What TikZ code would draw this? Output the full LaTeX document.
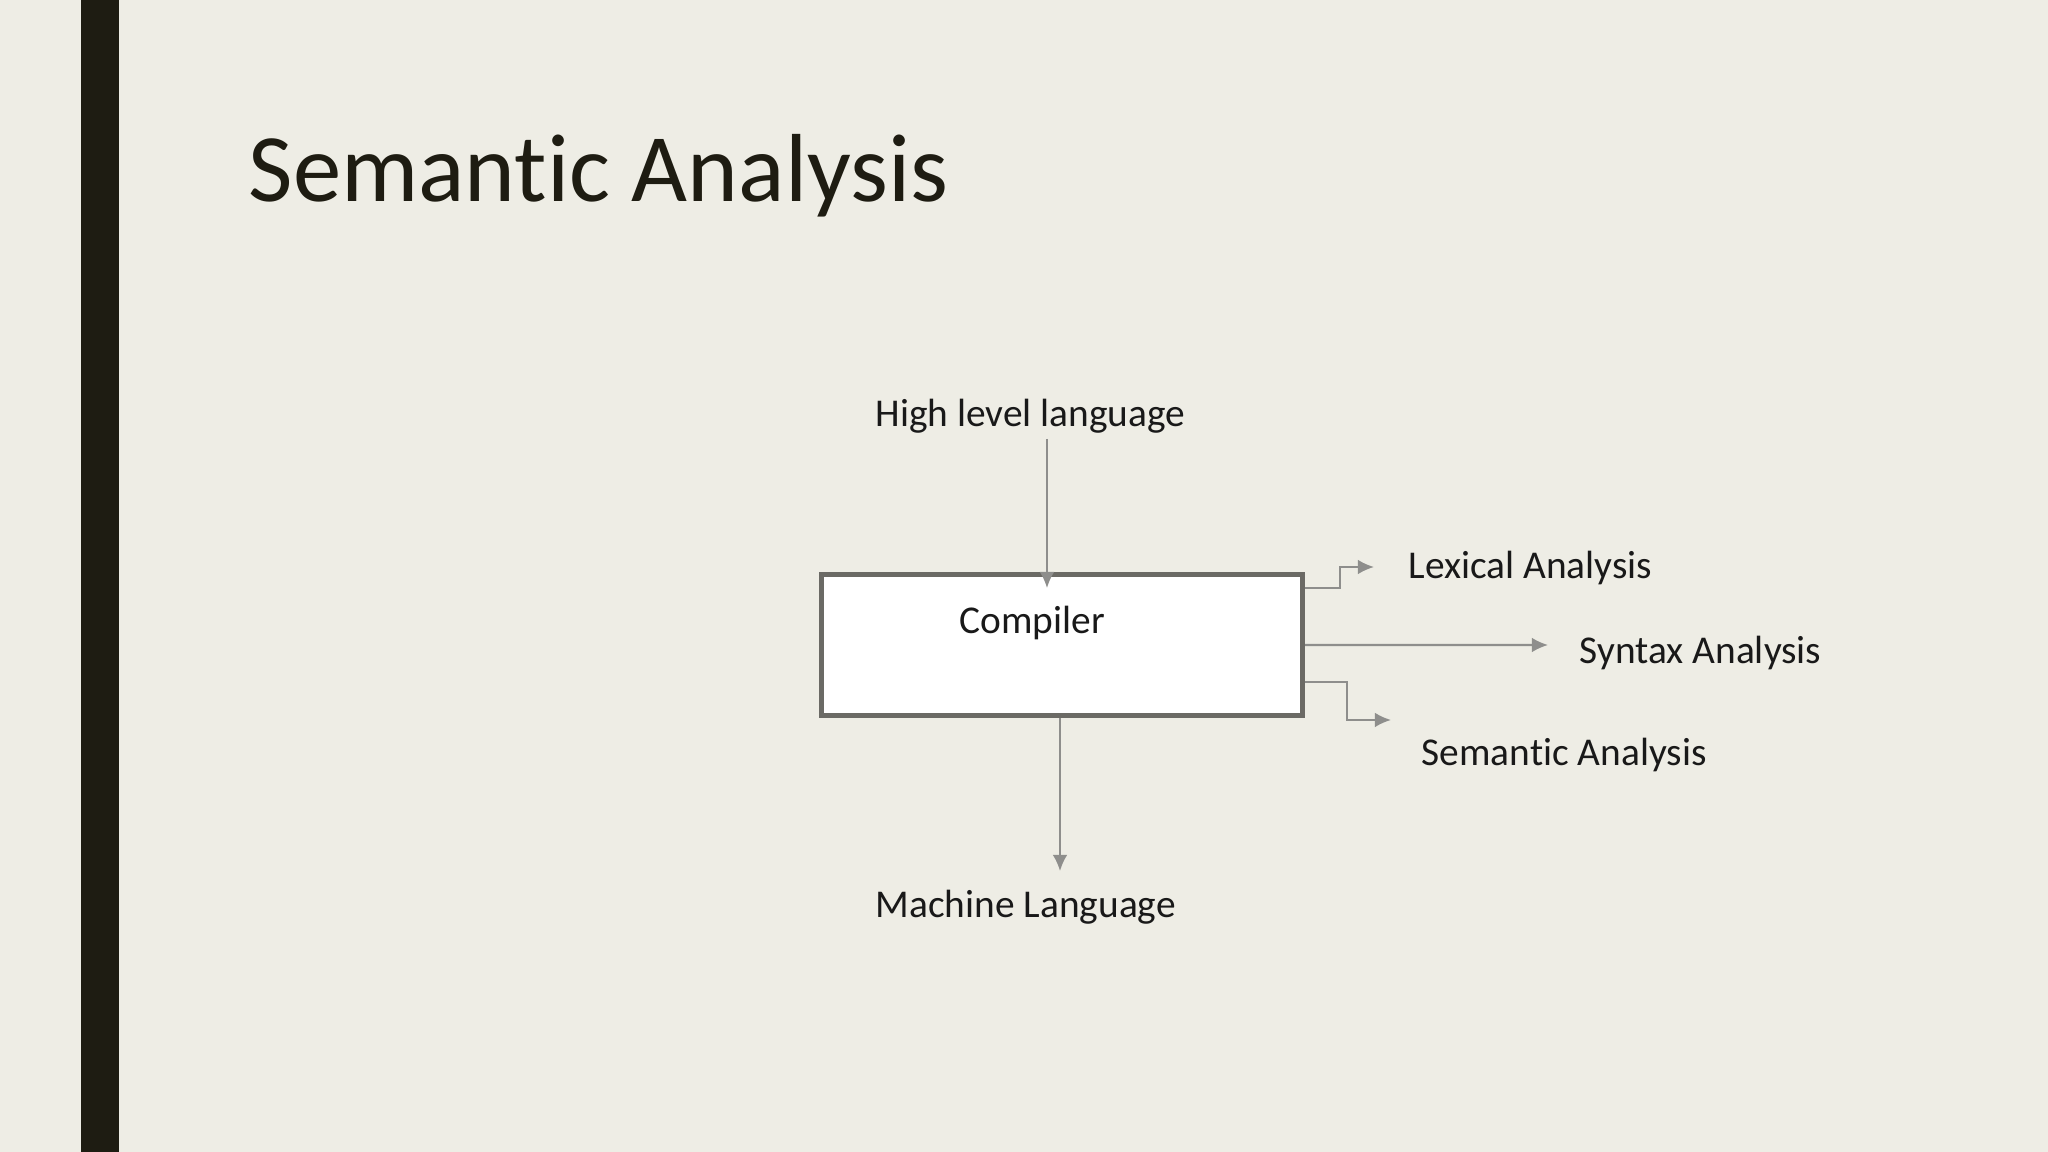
\documentclass[tikz,border=0pt]{standalone}
\usepackage{fontspec}
\setmainfont{Carlito}[Ligatures=NoCommon]
\usetikzlibrary{arrows.meta}
\definecolor{slidebg}{HTML}{EEEDE5}
\definecolor{slidebar}{HTML}{1E1C12}
\definecolor{boxline}{HTML}{6B6A65}
\definecolor{connline}{HTML}{8E8E8C}

\begin{document}
\begin{tikzpicture}[x=0.01cm,y=-0.01cm,>={Latex[length=4.6pt,width=4.2pt]}]
\tikzset{title/.style={anchor=base west, inner sep=0, font=\fontsize{27.5}{30}\selectfont, text=slidebar}}
\tikzset{txt/.style={anchor=west, inner sep=0, font=\fontsize{11.2}{13}\selectfont, text=black!90}}
\tikzset{block/.style={rectangle, draw=boxline, line width=1.4pt, fill=white, minimum width=4.81cm, minimum height=1.41cm, inner sep=0}}
\tikzset{conn/.style={->, draw=connline, line width=0.6pt}}
\useasboundingbox (0,0) rectangle (2048,1152);
\fill[slidebg] (0,0) rectangle (2048,1152);
\fill[slidebar] (81,0) rectangle (119,1152);
\node[title] (title) at (248,202) {Semantic Analysis};
% the compiler box and its labels
\node[block] (compiler) at (1062,645) {};
\node[txt] (compilertext) at (959,623) {Compiler};
\node[txt] (highlevel) at (875,416) {High level language};
\node[txt] (machine) at (875,907) {Machine Language};
\node[txt] (lexical) at (1408,568) {Lexical Analysis};
\node[txt] (syntax) at (1579,653) {Syntax Analysis};
\node[txt] (semantic) at (1421,755) {Semantic Analysis};
\coordinate (hltip) at (1047,588);
\coordinate (machtip) at (1060,871);
\coordinate (lextip) at ([xshift=-0.34cm,yshift=0.01cm]lexical.west);
\coordinate (syntip) at ([xshift=-0.31cm,yshift=0.08cm]syntax.west);
\coordinate (semtip) at ([xshift=-0.30cm,yshift=0.35cm]semantic.west);
\draw[conn] ([yshift=-0.05cm]highlevel.south -| hltip) -- (hltip);
\draw[conn] (compiler.south -| machtip) -- (machtip);
\draw[conn] ([yshift=0.57cm]compiler.east) -- ++(35,0) |- (lextip);
\draw[conn] (compiler.east) -- (syntip);
\draw[conn] ([yshift=-0.37cm]compiler.east) -- ++(42,0) |- (semtip);
\end{tikzpicture}
\end{document}
